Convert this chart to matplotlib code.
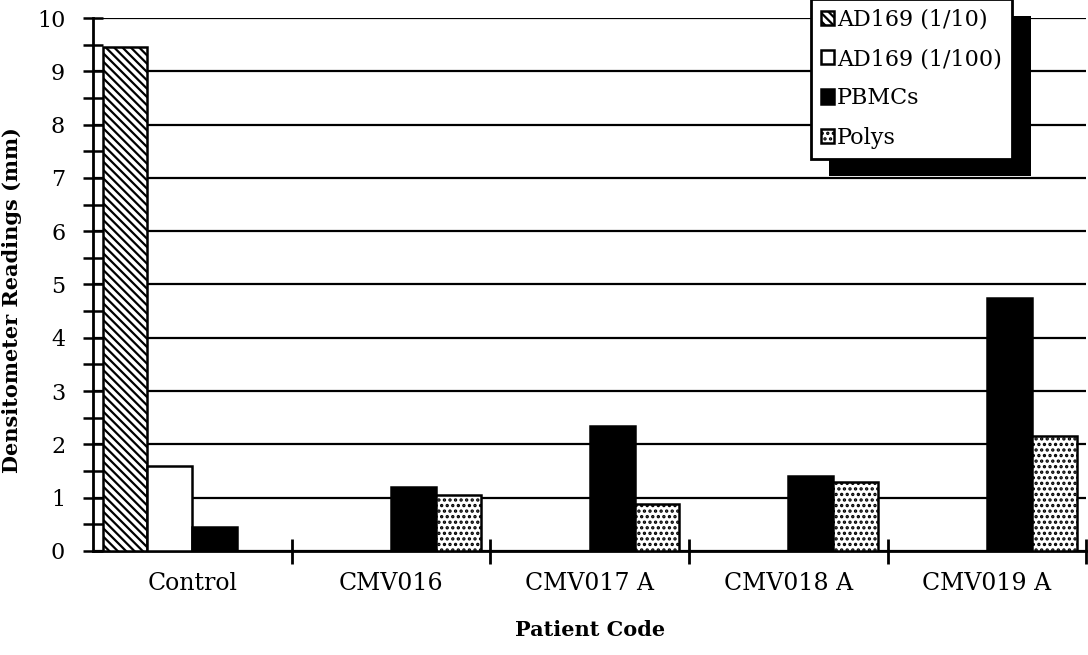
import matplotlib.pyplot as plt
from matplotlib.patches import Rectangle
from matplotlib.ticker import MultipleLocator, FixedLocator
import numpy as np

plt.rcParams['font.family'] = ['DejaVu Serif']
plt.rcParams['hatch.linewidth'] = 1.6

patients = ['Control', 'CMV016', 'CMV017 A', 'CMV018 A', 'CMV019 A']
series = ['AD169 (1/10)', 'AD169 (1/100)', 'PBMCs', 'Polys']
ad169_10 = [9.45, 0, 0, 0, 0]
ad169_100 = [1.6, 0, 0, 0, 0]
pbmcs = [0.45, 1.2, 2.35, 1.4, 4.75]
polys = [0, 1.05, 0.88, 1.3, 2.15]

fig = plt.figure(figsize=(10.88, 6.55), dpi=100)
ax = fig.add_axes([0.0855, 0.159, 0.913, 0.8135])

x = np.arange(len(patients))
w = 0.226
styles = [
    dict(facecolor='white', hatch='\\\\\\\\'),
    dict(facecolor='white'),
    dict(facecolor='black'),
    dict(facecolor='white', hatch='...'),
]
for i, (vals, st) in enumerate(zip([ad169_10, ad169_100, pbmcs, polys], styles)):
    ax.bar(x + (i - 1.5) * w, vals, w, edgecolor='black', linewidth=1.8,
           label=series[i], zorder=3, **st)

ax.set_xlim(-0.5, 4.5)
ax.set_ylim(0, 10)
ax.yaxis.set_major_locator(MultipleLocator(1))
ax.yaxis.set_minor_locator(MultipleLocator(0.5))
ax.grid(axis='y', which='major', color='black', linewidth=1.6, zorder=1)
ax.set_axisbelow(True)

# category boundaries as ticks, names at centres
ax.xaxis.set_major_locator(FixedLocator(x + 0.5))
ax.xaxis.set_minor_locator(FixedLocator(x))
ax.set_xticklabels([], minor=False)
ax.set_xticklabels(patients, minor=True, fontsize=17)
ax.tick_params(axis='x', which='major', direction='inout', length=18, width=2)
ax.tick_params(axis='x', which='minor', length=0, pad=15)
ax.tick_params(axis='y', which='both', direction='inout', length=14, width=1.8,
               labelsize=16, pad=13)

for s in ['top', 'right']:
    ax.spines[s].set_visible(False)
for s in ['left', 'bottom']:
    ax.spines[s].set_linewidth(2)

ax.set_ylabel('Densitometer Readings (mm)', fontsize=15, fontweight='bold')
ax.yaxis.set_label_coords(-0.072, 0.47)
ax.set_xlabel('Patient Code', fontsize=15, fontweight='bold', labelpad=18)

leg = fig.legend(loc='upper left', bbox_to_anchor=(0.745, 1.002), fontsize=16,
                 frameon=True, fancybox=False, edgecolor='black', framealpha=1,
                 handlelength=0.6, handleheight=0.6, handletextpad=0.15,
                 labelspacing=0.78, borderpad=0.45, borderaxespad=0)
leg.get_frame().set_linewidth(2)
leg.set_zorder(10)

fig.canvas.draw()
bb = leg.get_window_extent().transformed(fig.transFigure.inverted())
shadow = Rectangle((bb.x0 + 0.017, bb.y0 - 0.027), bb.width, bb.height,
                   transform=fig.transFigure, facecolor='black', zorder=9)
fig.add_artist(shadow)

fig.savefig('out.png', dpi=100)
